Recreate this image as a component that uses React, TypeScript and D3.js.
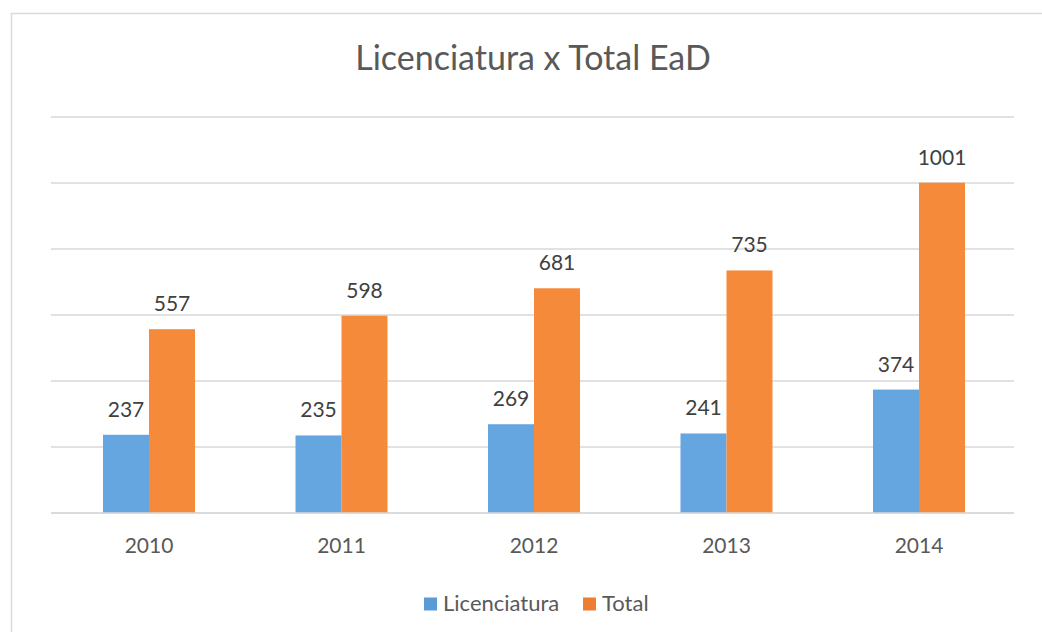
import React, { useEffect, useRef } from 'react';
import * as d3 from 'd3';

const years = ['2010', '2011', '2012', '2013', '2014'];
const seriesNames = ['Licenciatura', 'Total'];
const licenciatura = [237, 235, 269, 241, 374];
const total = [557, 598, 681, 735, 1001];
const gridTicks = [0, 200, 400, 600, 800, 1000, 1200];

const barColors = ['#65a5e0', '#f68a3b'];
const legendColors = ['#5b9bd5', '#ed7d31'];

const W = 1042;
const H = 632;

const App = () => {
  const ref = useRef<SVGSVGElement>(null);

  useEffect(() => {
    const svg = d3.select(ref.current);
    svg.selectAll('*').remove();

    const font = 'Lato, "Open Sans", sans-serif';
    const values = [licenciatura, total];

    // chart frame
    svg.append('rect')
      .attr('x', 11.5)
      .attr('y', 13.5)
      .attr('width', W + 50)
      .attr('height', H + 50)
      .attr('fill', '#fff')
      .attr('stroke', '#d9d9d9')
      .attr('stroke-width', 1.5);

    const x0 = d3.scaleBand().domain(years).range([52.75, 1015.25]).padding(0);
    const groupW = 92;
    const x1 = d3.scaleBand().domain(seriesNames).range([0, groupW]).padding(0);
    const y = d3.scaleLinear().domain([0, 1200]).range([513, 117]);

    // gridlines
    svg.append('g')
      .selectAll('line')
      .data(gridTicks)
      .enter()
      .append('line')
      .attr('x1', 51)
      .attr('x2', 1014)
      .attr('y1', d => y(d))
      .attr('y2', d => y(d))
      .attr('stroke', '#d9d9d9')
      .attr('stroke-width', 1.5);

    // bars
    const groupX = (yr: string) => x0(yr)! + x0.bandwidth() / 2 - groupW / 2;
    seriesNames.forEach((s, si) => {
      const g = svg.append('g');
      g.selectAll('rect')
        .data(years)
        .enter()
        .append('rect')
        .attr('x', (d) => groupX(d) + x1(s)!)
        .attr('y', (d, i) => y(values[si][i]))
        .attr('width', x1.bandwidth())
        .attr('height', (d, i) => y(0) - y(values[si][i]))
        .attr('fill', barColors[si]);

      g.selectAll('text')
        .data(years)
        .enter()
        .append('text')
        .attr('x', (d) => groupX(d) + x1(s)! + x1.bandwidth() / 2)
        .attr('y', (d, i) => y(values[si][i]) - 18)
        .attr('text-anchor', 'middle')
        .style('font-family', font)
        .style('font-size', '21px')
        .style('fill', '#404040')
        .text((d, i) => values[si][i]);
    });

    // baseline on top of bars
    svg.append('line')
      .attr('x1', 51)
      .attr('x2', 1014)
      .attr('y1', y(0))
      .attr('y2', y(0))
      .attr('stroke', '#d9d9d9')
      .attr('stroke-width', 1.5);

    // x axis labels
    svg.append('g')
      .selectAll('text')
      .data(years)
      .enter()
      .append('text')
      .attr('x', d => x0(d)! + x0.bandwidth() / 2)
      .attr('y', 553)
      .attr('text-anchor', 'middle')
      .style('font-family', font)
      .style('font-size', '21px')
      .style('fill', '#595959')
      .text(d => d);

    // title
    svg.append('text')
      .attr('x', 533)
      .attr('y', 70)
      .attr('text-anchor', 'middle')
      .style('font-family', font)
      .style('font-size', '34px')
      .style('fill', '#595959')
      .text('Licenciatura x Total EaD');

    // legend
    const legendX = [424, 583];
    seriesNames.forEach((s, si) => {
      svg.append('rect')
        .attr('x', legendX[si])
        .attr('y', 597.5)
        .attr('width', 13)
        .attr('height', 13)
        .attr('fill', legendColors[si]);
      svg.append('text')
        .attr('x', legendX[si] + 19)
        .attr('y', 611)
        .style('font-family', font)
        .style('font-size', '22px')
        .style('fill', '#595959')
        .text(s);
    });
  }, []);

  return (
    <svg
      ref={ref}
      width={W}
      height={H}
      style={{ position: 'absolute', left: 0, top: 0, background: '#fff' }}
    />
  );
};

export default App;
